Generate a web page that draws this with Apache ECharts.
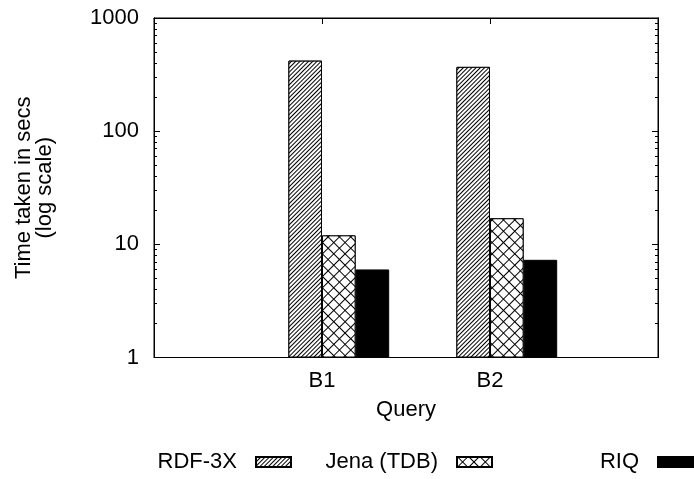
<!DOCTYPE html>
<html>
<head>
<meta charset="utf-8">
<script src="https://cdn.jsdelivr.net/npm/echarts@6/dist/echarts.min.js"></script>
<style>
  html, body { margin: 0; padding: 0; background: #fff; }
  #chart { width: 694px; height: 479px; }
</style>
</head>
<body>
<div id="chart"></div>
<script>
// Query names and measured run times (seconds)
var queries = ['B1', 'B2'];
var rdf3x = [420, 370];
var jenaTdb = [12, 17];
var riq = [6, 7.3];

// Decade labels of the log axis
var yTicks = [1, 10, 100, 1000];

var FONT = "'Liberation Sans', Arial, Helvetica, sans-serif";
var FS = 22;

// Categories padded with an empty slot on each side (x range -1 .. 2)
var categories = [''].concat(queries, ['']);
function padded(arr) { return [null].concat(arr, [null]); }

// Minor ticks at 2..9 of each decade
var minorTicks = [];
for (var d = 0; d < yTicks.length - 1; d++) {
  for (var m = 2; m <= 9; m++) minorTicks.push(m * yTicks[d]);
}

var hatch = {
  symbol: 'rect', symbolSize: 1,
  color: '#000', backgroundColor: '#fff',
  dashArrayX: [1, 0], dashArrayY: [1, 2],
  rotation: -Math.PI / 4
};
var crossHatch = {
  symbol: 'rect', symbolSize: 1,
  color: '#fff', backgroundColor: '#000',
  dashArrayX: [7, 1], dashArrayY: [7, 1],
  rotation: Math.PI / 4
};

var BW = 33.6;
var border = { borderColor: '#000', borderWidth: 1 };

function yAxisDef(pos, values, len, withLabels) {
  return {
    type: 'log', logBase: 10, min: 1, max: 1000, position: pos,
    axisLine: { show: true, lineStyle: { color: '#000', width: 1 } },
    axisTick: { show: true, inside: true, length: len, customValues: values,
                lineStyle: { color: '#000', width: 1 } },
    axisLabel: withLabels ? { show: true, customValues: yTicks, margin: 15,
                color: '#000', fontFamily: FONT, fontSize: FS,
                formatter: function (v) { return String(v); } } : { show: false },
    splitLine: { show: false }
  };
}

var mainY = yAxisDef('left', yTicks, 6, true);
mainY.name = 'Time taken in secs\n(log scale)';
mainY.nameLocation = 'middle';
mainY.nameRotate = 90;
mainY.nameGap = 99;
mainY.nameTextStyle = { color: '#000', fontFamily: FONT, fontSize: FS, lineHeight: 21 };

function legendDef(name, right) {
  return {
    data: [name], right: right, top: 451, padding: 0, orient: 'horizontal', align: 'right',
    icon: 'rect', itemWidth: 35, itemHeight: 10, selectedMode: false,
    textStyle: { color: '#000', fontFamily: FONT, fontSize: FS, lineHeight: 22,
                 padding: [0, 14, 0, 0] }
  };
}

var option = {
  animation: false,
  backgroundColor: '#fff',
  grid: { left: 154, right: 36, top: 18, bottom: 121.5, show: true,
          borderColor: '#000', borderWidth: 1, backgroundColor: 'transparent' },
  legend: [
    legendDef('RDF-3X', 402),
    legendDef('Jena (TDB)', 201),
    legendDef('RIQ', 0)
  ],
  xAxis: [{
    type: 'category', data: categories, boundaryGap: false, position: 'bottom',
    name: 'Query', nameLocation: 'middle', nameGap: 41,
    nameTextStyle: { color: '#000', fontFamily: FONT, fontSize: FS },
    axisLine: { show: true, lineStyle: { color: '#000', width: 1 } },
    axisTick: { show: true, inside: true, length: 6,
                interval: function (i, v) { return v !== ''; },
                lineStyle: { color: '#000' } },
    axisLabel: { margin: 12, color: '#000', fontFamily: FONT, fontSize: FS,
                 interval: 0 },
    splitLine: { show: false }
  }, {
    type: 'category', data: categories, boundaryGap: false, position: 'top',
    axisLine: { show: true, lineStyle: { color: '#000', width: 1 } },
    axisTick: { show: true, inside: true, length: 6,
                interval: function (i, v) { return v !== ''; },
                lineStyle: { color: '#000' } },
    axisLabel: { show: false },
    splitLine: { show: false }
  }],
  yAxis: [
    mainY,
    yAxisDef('left', minorTicks, 3, false),
    yAxisDef('right', yTicks, 6, false),
    yAxisDef('right', minorTicks, 3, false)
  ],
  series: [
    { type: 'bar', name: 'spacer', data: [], barWidth: BW, barGap: '0%',
      itemStyle: { color: 'transparent' }, silent: true },
    { type: 'bar', name: 'RDF-3X', data: padded(rdf3x), barWidth: BW, barGap: '0%',
      itemStyle: Object.assign({ color: '#fff', decal: hatch }, border) },
    { type: 'bar', name: 'Jena (TDB)', data: padded(jenaTdb), barWidth: BW, barGap: '0%',
      itemStyle: Object.assign({ color: '#fff', decal: crossHatch }, border) },
    { type: 'bar', name: 'RIQ', data: padded(riq), barWidth: BW, barGap: '0%',
      itemStyle: Object.assign({ color: '#000' }, border) }
  ]
};

var chart = echarts.init(document.getElementById('chart'), null, { renderer: 'canvas' });
chart.setOption(option);
</script>
</body>
</html>
